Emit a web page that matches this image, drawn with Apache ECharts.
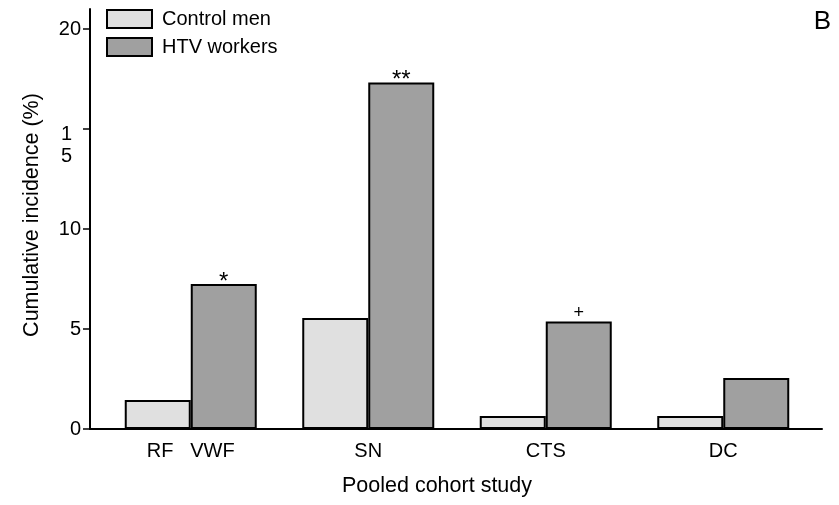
<!DOCTYPE html>
<html>
<head>
<meta charset="utf-8">
<script src="https://cdn.jsdelivr.net/npm/echarts@6/dist/echarts.min.js"></script>
<style>html,body{margin:0;padding:0;background:#fff;}#c{width:839px;height:505px;}</style>
</head>
<body>
<div id="c"></div>
<script>
const categories = ['RF   VWF', 'SN', 'CTS', 'DC'];
const controlMen = [1.45, 5.55, 0.65, 0.65];
const htvWorkers = [7.25, 17.33, 5.37, 2.55];
const significance = ['*', '**', '+', ''];
const yTicks = [0, 5, 10, 15, 20];
const seriesNames = ['Control men', 'HTV workers'];

const FONT = 'Arial, "Liberation Sans", sans-serif';
const FS = 20;
const TFS = 21.5;

const htvData = htvWorkers.map(function (v, i) {
  const mark = significance[i];
  const isStar = mark.indexOf('*') >= 0;
  return {
    value: v,
    label: {
      show: mark !== '',
      formatter: mark,
      fontSize: isStar ? 24 : 18,
      distance: isStar ? -10 : 0
    }
  };
});

const chart = echarts.init(document.getElementById('c'), null, {renderer: 'canvas'});
chart.setOption({
  animation: false,
  backgroundColor: '#fff',
  textStyle: {fontFamily: FONT, color: '#000'},
  title: {text: 'B', right: 3, top: 4, textStyle: {fontFamily: FONT, fontSize: 26, fontWeight: 'normal', color: '#000'}},
  legend: {
    left: 101, top: 4, orient: 'vertical', itemWidth: 45, itemHeight: 18, itemGap: 8,
    icon: 'rect',
    textStyle: {fontFamily: FONT, fontSize: FS, color: '#000', padding: [0, 0, 0, 5]},
    data: seriesNames
  },
  grid: [
    {left: 102, right: 27, top: 9, bottom: 76},
    {left: 90, right: 17, top: 9, bottom: 76}
  ],
  xAxis: [
    {
      type: 'category', gridIndex: 0, data: categories,
      axisLine: {show: false},
      axisTick: {show: false},
      axisLabel: {fontFamily: FONT, fontSize: FS, color: '#000', margin: 12},
      name: 'Pooled cohort study', nameLocation: 'middle', nameGap: 46,
      nameTextStyle: {fontFamily: FONT, fontSize: TFS, color: '#000', padding: [0, 40, 0, 0]}
    },
    {
      type: 'category', gridIndex: 1, data: [''],
      axisLine: {show: true, lineStyle: {color: '#000', width: 2}},
      axisTick: {show: false}, axisLabel: {show: false}
    }
  ],
  yAxis: [
    {
      type: 'value', gridIndex: 0, min: 0, max: 21, interval: 5, offset: 12,
      splitLine: {show: false},
      axisLine: {show: true, lineStyle: {color: '#000', width: 2}},
      axisTick: {show: true, length: 7, lineStyle: {color: '#000', width: 1.5}, customValues: yTicks},
      axisLabel: {
        fontFamily: FONT, fontSize: FS, color: '#000', margin: 9,
        customValues: yTicks,
        formatter: function (v) { return v === 15 ? '{g|}\n{s|1}\n{s|5}' : String(v); },
        rich: {
          g: {fontSize: 1, lineHeight: 32},
          s: {fontFamily: FONT, fontSize: FS, color: '#000', lineHeight: 22, padding: [0, 9, 0, 0], align: 'right'}
        }
      },
      name: 'Cumulative incidence (%)', nameLocation: 'middle', nameGap: 47,
      nameTextStyle: {fontFamily: FONT, fontSize: TFS, color: '#000', padding: [0, 0, 0, 8]}
    },
    {type: 'value', gridIndex: 1, show: false, min: 0, max: 21}
  ],
  series: [
    {
      name: seriesNames[0], type: 'bar', xAxisIndex: 0, yAxisIndex: 0,
      data: controlMen, barWidth: 66, barGap: '0%',
      itemStyle: {color: '#e0e0e0', borderColor: '#000', borderWidth: 2}
    },
    {
      name: seriesNames[1], type: 'bar', xAxisIndex: 0, yAxisIndex: 0,
      data: htvData, barWidth: 66, barGap: '0%',
      itemStyle: {color: '#a0a0a0', borderColor: '#000', borderWidth: 2},
      label: {position: 'top', fontFamily: FONT, color: '#000'}
    }
  ]
});
</script>
</body>
</html>
